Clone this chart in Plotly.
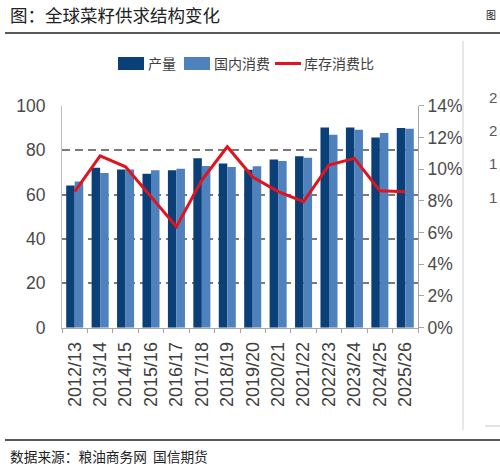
import plotly.graph_objects as go

# data
years = ["2012/13", "2013/14", "2014/15", "2015/16", "2016/17", "2017/18", "2018/19",
         "2019/20", "2020/21", "2021/22", "2022/23", "2023/24", "2024/25", "2025/26"]
production = [64.1, 72.1, 71.3, 69.4, 70.9, 76.3, 74.0, 71.1, 75.8, 77.2, 90.2, 90.2, 85.7, 89.9]
consumption = [65.8, 69.7, 71.3, 70.9, 71.6, 72.8, 72.4, 72.7, 75.1, 76.6, 86.9, 89.2, 87.7, 89.6]
stock_ratio = [0.0858, 0.1083, 0.1015, 0.0826, 0.0637, 0.0931, 0.1141, 0.0950,
               0.0858, 0.0795, 0.1026, 0.1068, 0.0864, 0.0858]

W, H = 500, 468
DARK = "#0B3F78"
LIGHT = "#4F81BD"
RED = "#E0141E"
NUM_FONT = "Liberation Sans Narrow, Liberation Sans, Arial"
CJK = "Noto Sans CJK SC"


def px(x):
    return x / W


def py(y):
    return 1 - y / H


fig = go.Figure()
fig.add_trace(go.Bar(x=years, y=production, name="产量", marker_color=DARK,
                     marker_line_width=0))
fig.add_trace(go.Bar(x=years, y=consumption, name="国内消费", marker_color=LIGHT,
                     marker_line_width=0))
fig.add_trace(go.Scatter(x=years, y=stock_ratio, name="库存消费比", yaxis="y2",
                         mode="lines", line=dict(color=RED, width=3)))

shapes = []
annotations = []

# legend drawn by hand to get the wide swatches
shapes.append(dict(type="rect", xref="paper", yref="paper", x0=px(118), x1=px(144),
                   y0=py(57), y1=py(70), fillcolor=DARK, line_width=0))
shapes.append(dict(type="rect", xref="paper", yref="paper", x0=px(184), x1=px(210),
                   y0=py(57), y1=py(70), fillcolor=LIGHT, line_width=0))
shapes.append(dict(type="line", xref="paper", yref="paper", x0=px(275), x1=px(301),
                   y0=py(63.5), y1=py(63.5), line=dict(color=RED, width=3)))
for x, t in [(146, "产量"), (212, "国内消费"), (302, "库存消费比")]:
    annotations.append(dict(x=px(x), y=py(63.5), xref="paper", yref="paper", text=t,
                            showarrow=False, xanchor="left", yanchor="middle",
                            font=dict(family=CJK, size=14, color="#404040")))

# page frame: header rule, footer rule, right border of the chart box
shapes.append(dict(type="line", xref="paper", yref="paper", x0=px(5), x1=1,
                   y0=py(33), y1=py(33), line=dict(color="#222222", width=1.3)))
shapes.append(dict(type="line", xref="paper", yref="paper", x0=px(5), x1=1,
                   y0=py(440), y1=py(440), line=dict(color="#555555", width=2)))
shapes.append(dict(type="line", xref="paper", yref="paper", x0=px(463), x1=px(463),
                   y0=py(41), y1=py(430), line=dict(color="#D0D0D0", width=1)))
shapes.append(dict(type="line", xref="paper", yref="paper", x0=px(485), x1=1,
                   y0=py(426), y1=py(426), line=dict(color="#C8C8C8", width=1)))

annotations.append(dict(x=px(8), y=py(14), xref="paper", yref="paper",
                        text="图：全球菜籽供求结构变化", showarrow=False,
                        xanchor="left", yanchor="middle",
                        font=dict(family=CJK, size=17.5, color="#222222")))
annotations.append(dict(x=px(8), y=py(456), xref="paper", yref="paper",
                        text="数据来源：粮油商务网  国信期货", showarrow=False,
                        xanchor="left", yanchor="middle",
                        font=dict(family=CJK, size=13.7, color="#222222")))
# neighbour chart peeking in at the right edge
annotations.append(dict(x=px(498), y=py(14), xref="paper", yref="paper", text="图",
                        showarrow=False, xanchor="right", yanchor="middle",
                        font=dict(family=CJK, size=10, color="#222222")))
for yy, t in [(97, "2"), (130, "2"), (163, "1"), (197, "1")]:
    annotations.append(dict(x=px(499), y=py(yy), xref="paper", yref="paper", text=t,
                            showarrow=False, xanchor="right", yanchor="middle",
                            font=dict(family=NUM_FONT, size=15, color="#595959")))

fig.update_layout(
    width=W, height=H,
    margin=dict(l=0, r=0, t=0, b=0, autoexpand=False),
    paper_bgcolor="white", plot_bgcolor="white",
    showlegend=False,
    barmode="group", bargap=0.33, bargroupgap=0.0,
    shapes=shapes, annotations=annotations,
    xaxis=dict(domain=[px(62), px(418)], tickangle=-90, showgrid=False, automargin=False,
               showline=True, linecolor="#A6A6A6", linewidth=1,
               ticks="outside", tickson="boundaries", ticklen=4, tickcolor="#A6A6A6",
               ticklabelstandoff=6,
               tickfont=dict(family="Liberation Sans, Arial", size=18, color="#404040")),
    yaxis=dict(domain=[py(327.7), py(105.7)], range=[0, 100], dtick=20, automargin=False,
               showgrid=True, gridcolor="#7A7A7A", gridwidth=1.5, griddash="8px,5px",
               showline=True, linecolor="#BFBFBF", linewidth=1,
               zeroline=False, ticks="", ticklabelstandoff=12,
               tickfont=dict(family=NUM_FONT, size=17.5, color="#4A4A4A")),
    yaxis2=dict(overlaying="y", side="right", range=[0, 0.14], dtick=0.02, automargin=False,
                tickformat=".0%", showgrid=False, zeroline=False,
                showline=True, linecolor="#A6A6A6", linewidth=1,
                ticks="outside", ticklen=5, tickcolor="#A6A6A6",
                tickfont=dict(family=NUM_FONT, size=17.5, color="#4A4A4A")),
)

# drop the browser's default page margin so the figure sits at the window corner
fig.write_html("out.html", config={"displayModeBar": False},
               post_script="document.body.style.margin='0';")
